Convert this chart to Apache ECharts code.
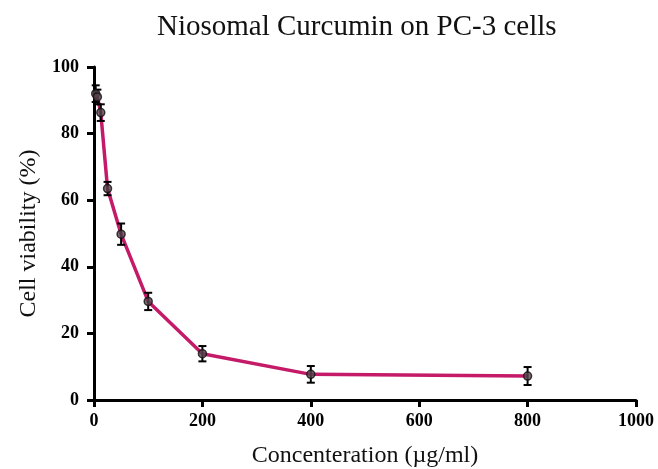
<!DOCTYPE html>
<html>
<head>
<meta charset="utf-8">
<script src="https://cdn.jsdelivr.net/npm/echarts@6/dist/echarts.min.js"></script>
<style>html,body{margin:0;padding:0;background:#fff;}#c{width:658px;height:469px;}</style>
</head>
<body>
<div id="c"></div>
<script>
var concentrations = [3.125, 6.25, 12.5, 25, 50, 100, 200, 400, 800];
var viability = [92, 91, 86.3, 63.5, 49.8, 29.6, 13.9, 7.7, 7.2];
var errors = [2.5, 2.2, 2.5, 2.0, 3.2, 2.6, 2.3, 2.5, 2.7];
var xTicks = [0, 200, 400, 600, 800, 1000];
var yTicks = [0, 20, 40, 60, 80, 100];

var lineData = concentrations.map(function (c, i) { return [c, viability[i]]; });
var errData = concentrations.map(function (c, i) { return [c, viability[i] - errors[i], viability[i] + errors[i]]; });

var serif = '"Liberation Serif", "Times New Roman", serif';
var chart = echarts.init(document.getElementById('c'), null, {renderer: 'canvas'});
chart.setOption({
  animation: false,
  backgroundColor: '#ffffff',
  title: {
    text: 'Niosomal Curcumin on PC-3 cells',
    left: 152, top: 8,
    textStyle: {fontFamily: serif, fontSize: 29, fontWeight: 'normal', color: '#111'}
  },
  grid: {left: 94, right: 22, top: 67, bottom: 69, containLabel: false, outerBoundsMode: 'none'},
  xAxis: {
    type: 'value', min: xTicks[0], max: xTicks[xTicks.length - 1], interval: 200,
    name: 'Concenteration (\u00b5g/ml)', nameLocation: 'middle', nameGap: 44,
    nameTextStyle: {fontFamily: serif, fontSize: 24, color: '#111'},
    axisLine: {lineStyle: {color: '#000', width: 3}},
    axisTick: {show: true, length: 7, lineStyle: {color: '#000', width: 3}},
    axisLabel: {fontFamily: serif, fontSize: 18, fontWeight: 'bold', color: '#000', margin: 12,
      formatter: function (v) { return xTicks.indexOf(v) >= 0 ? String(v) : ''; }},
    splitLine: {show: false}
  },
  yAxis: {
    type: 'value', min: yTicks[0], max: yTicks[yTicks.length - 1], interval: 20,
    name: 'Cell viability (%)', nameLocation: 'middle', nameGap: 53,
    nameTextStyle: {fontFamily: serif, fontSize: 24, color: '#111'},
    axisLine: {show: true, lineStyle: {color: '#000', width: 3}},
    axisTick: {show: true, length: 7, lineStyle: {color: '#000', width: 3}},
    axisLabel: {fontFamily: serif, fontSize: 18, fontWeight: 'bold', color: '#000', margin: 15,
      formatter: function (v) { return yTicks.indexOf(v) >= 0 ? String(v) : ''; }},
    splitLine: {show: false}
  },
  series: [
    {
      type: 'line', data: lineData, z: 2,
      symbol: 'none',
      lineStyle: {color: '#c41a68', width: 3.5}
    },
    {
      type: 'custom', data: errData, z: 3,
      renderItem: function (params, api) {
        var x = api.value(0);
        var lo = api.coord([x, api.value(1)]);
        var hi = api.coord([x, api.value(2)]);
        var hw = 4;
        var st = {stroke: '#000', lineWidth: 2};
        return {type: 'group', children: [
          {type: 'line', shape: {x1: lo[0], y1: lo[1], x2: hi[0], y2: hi[1]}, style: st},
          {type: 'line', shape: {x1: lo[0] - hw, y1: lo[1], x2: lo[0] + hw, y2: lo[1]}, style: st},
          {type: 'line', shape: {x1: hi[0] - hw, y1: hi[1], x2: hi[0] + hw, y2: hi[1]}, style: st}
        ]};
      }
    },
    {
      type: 'scatter', data: lineData, z: 4,
      symbol: 'circle', symbolSize: 8,
      itemStyle: {color: '#5a4450', borderColor: '#111', borderWidth: 1.5}
    }
  ]
});
</script>
</body>
</html>
